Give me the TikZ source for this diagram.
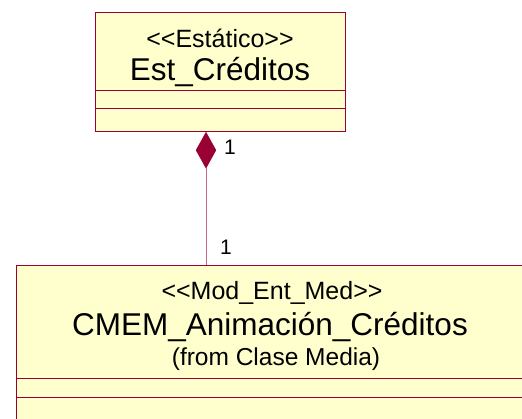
\documentclass[tikz,border=0pt]{standalone}
\usepackage{fontspec}
\setmainfont{Liberation Sans}[Ligatures=TeXOff]
\usetikzlibrary{shapes.geometric}
\definecolor{umlfill}{RGB}{255,255,206}
\definecolor{umlline}{RGB}{153,0,51}
\definecolor{linkline}{RGB}{204,102,136}
\tikzset{
  classbox/.style={draw=umlline, fill=umlfill, line width=1pt, inner sep=0pt, anchor=north west},
  sep/.style={draw=umlline, line width=1pt},
  stereo/.style={font=\fontsize{25}{28}\selectfont, inner sep=0pt},
  cname/.style={font=\fontsize{31.5}{36}\selectfont, inner sep=0pt},
  fromtxt/.style={font=\fontsize{24.5}{27}\selectfont, inner sep=0pt},
  mult/.style={font=\fontsize{21}{24}\selectfont, inner sep=0pt},
  agg/.style={diamond, draw=umlline, fill=umlline, minimum width=20pt, minimum height=36pt, inner sep=0pt, anchor=north},
  link/.style={draw=linkline, line width=1pt}
}
\begin{document}
\begin{tikzpicture}[x=1pt,y=1pt]
\useasboundingbox (0,0) rectangle (522,-418);
% top class
\node[classbox, minimum width=250pt, minimum height=119pt] (top) at (95,-12) {};
\draw[sep] (95,-90) -- (345,-90);
\draw[sep] (95,-108) -- (345,-108);
\node[stereo] (topst) at (220,-38) {<<Estático>>};
\node[cname] (topname) at (220,-72) {Est\_Créditos};
% bottom class
\node[classbox, minimum width=510pt, minimum height=180pt] (bot) at (16,-265) {};
\draw[sep] (16,-378) -- (530,-378);
\draw[sep] (16,-397) -- (530,-397);
\node[stereo] (botst) at (272,-293) {<<Mod\_Ent\_Med>>};
\node[cname] (botname) at (270,-327) {CMEM\_Animación\_Créditos};
\node[fromtxt] (botfrom) at (276,-359) {(from Clase Media)};
% aggregation
\node[agg] (dia) at (206,-132) {};
\draw[link] (dia.south) -- (dia.south |- bot.north);
\node[mult] (m1) at (230,-147) {1};
\node[mult] (m2) at (226,-247) {1};
\end{tikzpicture}
\end{document}
